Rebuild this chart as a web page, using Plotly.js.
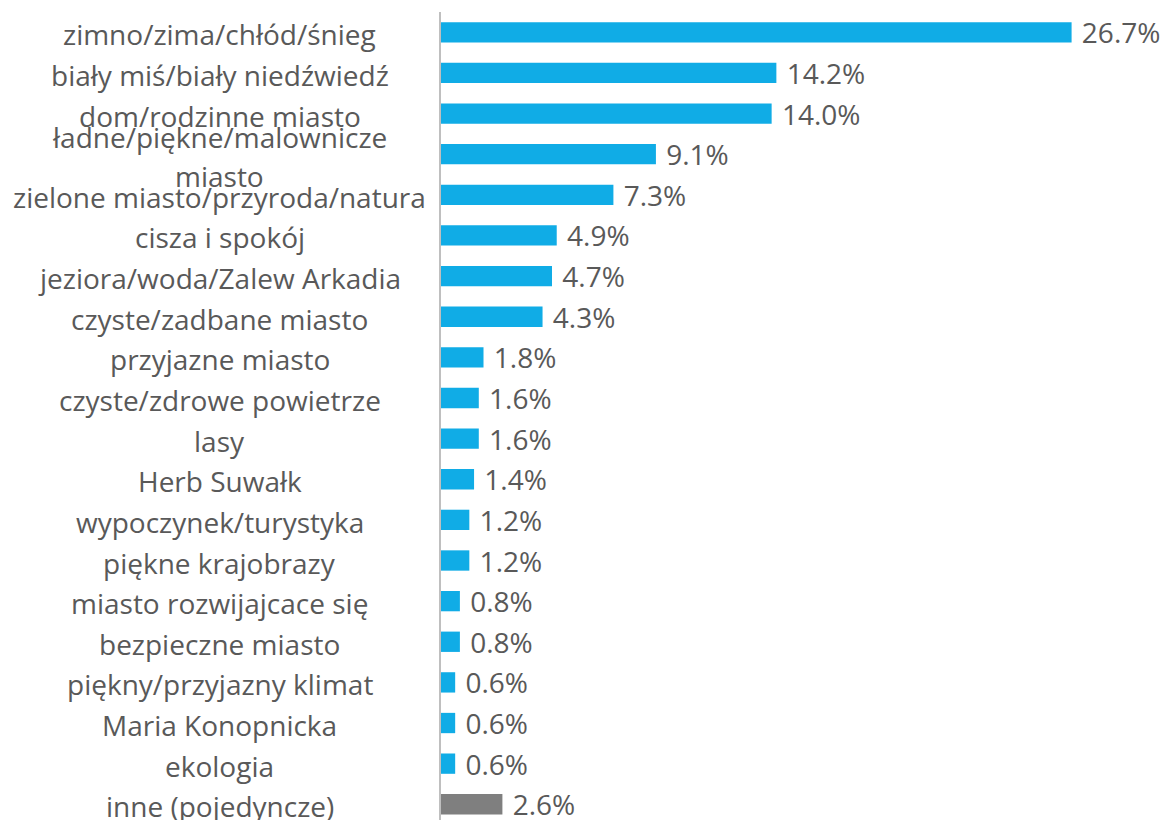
<!DOCTYPE html>
<html>
<head>
<meta charset="utf-8">
<script src="https://cdn.plot.ly/plotly-3.0.1.min.js"></script>
<style>html,body{margin:0;padding:0;background:#fff;}#chart{width:1167px;height:820px;}</style>
</head>
<body>
<div id="chart"></div>
<script>
const categories = [
  "zimno/zima/chłód/śnieg",
  "biały miś/biały niedźwiedź",
  "dom/rodzinne miasto",
  "ładne/piękne/malownicze<br>miasto",
  "zielone miasto/przyroda/natura",
  "cisza i spokój",
  "jeziora/woda/Zalew Arkadia",
  "czyste/zadbane miasto",
  "przyjazne miasto",
  "czyste/zdrowe powietrze",
  "lasy",
  "Herb Suwałk",
  "wypoczynek/turystyka",
  "piękne krajobrazy",
  "miasto rozwijajcace się",
  "bezpieczne miasto",
  "piękny/przyjazny klimat",
  "Maria Konopnicka",
  "ekologia",
  "inne (pojedyncze)"
];
const values = [26.7, 14.2, 14.0, 9.1, 7.3, 4.9, 4.7, 4.3, 1.8, 1.6, 1.6, 1.4, 1.2, 1.2, 0.8, 0.8, 0.6, 0.6, 0.6, 2.6];
const otherLabel = "inne (pojedyncze)";

const BLUE = "#10ACE6", GREY = "#7F7F7F", TXT = "#595959";
const FONT = "Open Sans, DejaVu Sans, sans-serif";
const FS = 28;

const yKeys = categories.map(c => c.replace("<br>", " "));
const colors = categories.map(c => c === otherLabel ? GREY : BLUE);

const trace = {
  type: "bar", orientation: "h",
  x: values, y: yKeys,
  marker: {color: colors},
  width: 0.5,
  text: values.map(v => "\u00a0" + v.toFixed(1) + "%"),
  textposition: "outside",
  constraintext: "none",
  textfont: {family: FONT, size: FS, color: TXT},
  cliponaxis: false,
  hoverinfo: "none"
};

const W = 1167, L = 441;
const labelX = (220 - L) / (W - L);
const annotations = [];
categories.forEach((c, i) => {
  const lines = c.split("<br>");
  const shifts = lines.length === 1 ? [-2] : [17, -22];
  lines.forEach((ln, k) => {
    annotations.push({xref: "paper", yref: "y", x: labelX, y: yKeys[i], text: ln,
      showarrow: false, xanchor: "center", yanchor: "middle", yshift: shifts[k],
      font: {family: FONT, size: FS, color: TXT}});
  });
});

const layout = {
  width: W, height: 820,
  margin: {l: L, r: 0, t: 12, b: 0, pad: 0},
  paper_bgcolor: "#fff", plot_bgcolor: "#fff",
  showlegend: false,
  xaxis: {range: [0, 30.74], showgrid: false, zeroline: false, showline: false, showticklabels: false, ticks: "", fixedrange: true},
  yaxis: {type: "category", categoryorder: "array", categoryarray: yKeys, range: [19.387, -0.5],
    showgrid: false, zeroline: false, showline: true, linecolor: "#BFBFBF", linewidth: 2,
    showticklabels: false, ticks: "", fixedrange: true},
  annotations: annotations,
  font: {family: FONT, color: TXT}
};

Plotly.newPlot("chart", [trace], layout, {displayModeBar: false, staticPlot: true});
</script>
</body>
</html>
